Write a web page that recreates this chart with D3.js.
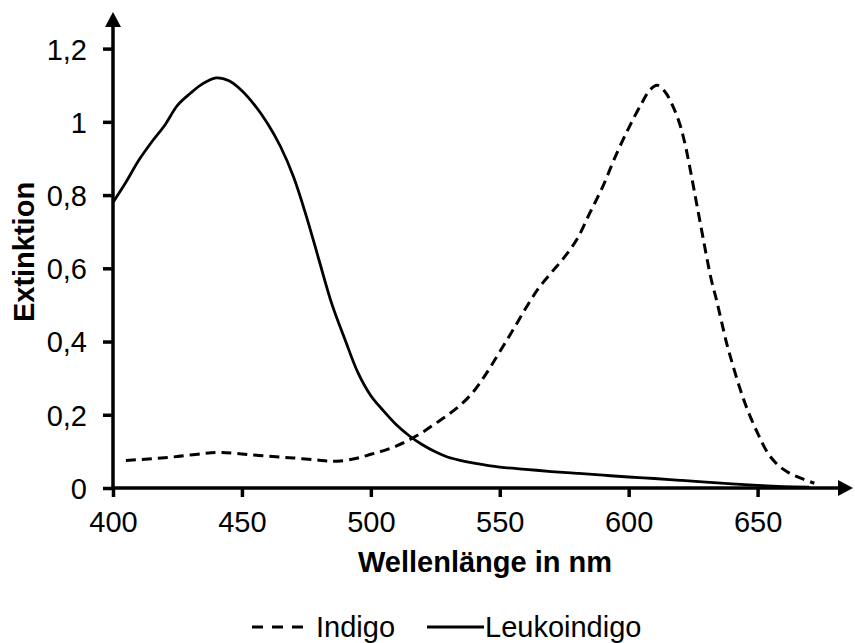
<!DOCTYPE html>
<html>
<head>
<meta charset="utf-8">
<script src="https://cdn.jsdelivr.net/npm/d3@7"></script>
<style>
  body { margin: 0; background: #fff; }
  text { font-family: "Liberation Sans", Arial, sans-serif; fill: #000; }
</style>
</head>
<body>
<div class="chart"></div>
<script>
// Absorptionsspektren
const xTicks = [400, 450, 500, 550, 600, 650];
const yTicks = [0, 0.2, 0.4, 0.6, 0.8, 1, 1.2];

const leukoNm  = [400, 405, 410, 415, 420, 425, 430, 435, 440, 445, 450, 455, 460, 465, 470, 475, 480, 485, 490, 495, 500, 505, 510, 515, 520, 525, 530, 535, 540, 550, 560, 570, 580, 590, 600, 610, 620, 630, 640, 650, 660, 670];
const leukoExt = [0.78, 0.835, 0.895, 0.945, 0.99, 1.045, 1.078, 1.105, 1.12, 1.112, 1.085, 1.045, 0.995, 0.932, 0.85, 0.742, 0.62, 0.5, 0.405, 0.315, 0.252, 0.21, 0.172, 0.142, 0.118, 0.099, 0.084, 0.075, 0.068, 0.057, 0.051, 0.045, 0.04, 0.035, 0.03, 0.026, 0.021, 0.016, 0.011, 0.007, 0.004, 0.002];

const indigoNm  = [405, 415, 425, 435, 442, 450, 460, 470, 480, 487, 495, 500, 505, 510, 515, 520, 525, 530, 535, 540, 545, 550, 555, 560, 565, 570, 575, 580, 585, 590, 595, 600, 605, 608, 611, 614, 617, 620, 622, 624, 626, 628, 630, 632, 634, 636, 638, 640, 643, 646, 650, 654, 658, 662, 667, 672];
const indigoExt = [0.075, 0.08, 0.086, 0.094, 0.097, 0.093, 0.087, 0.082, 0.076, 0.073, 0.082, 0.092, 0.102, 0.115, 0.132, 0.152, 0.176, 0.2, 0.228, 0.265, 0.315, 0.372, 0.43, 0.49, 0.545, 0.588, 0.63, 0.68, 0.752, 0.824, 0.908, 0.983, 1.05, 1.085, 1.1, 1.083, 1.045, 0.99, 0.935, 0.865, 0.79, 0.715, 0.64, 0.57, 0.515, 0.455, 0.395, 0.345, 0.275, 0.215, 0.15, 0.095, 0.062, 0.042, 0.026, 0.013];

const width = 855;
const height = 643;

const svg = d3.select(".chart")
  .append("svg")
  .attr("width", width)
  .attr("height", height);

const x = d3.scaleLinear().domain([400, 687]).range([113, 853]);
const y = d3.scaleLinear().domain([0, 1.3]).range([488, 12]);

const de = d3.formatLocale({ decimal: ",", thousands: ".", grouping: [3], currency: ["", "€"] });
const fmt = de.format("~g");

// Ticks
const xAxis = svg.append("g")
  .attr("transform", `translate(0,${y(0)})`)
  .call(d3.axisBottom(x).tickValues(xTicks).tickSize(9).tickPadding(14).tickFormat(d => d));
const yAxis = svg.append("g")
  .attr("transform", `translate(${x(400)},0)`)
  .call(d3.axisLeft(y).tickValues(yTicks).tickSize(10).tickPadding(16).tickFormat(fmt));

[xAxis, yAxis].forEach(g => {
  g.select(".domain").remove();
  g.selectAll(".tick line").attr("stroke", "#000").attr("stroke-width", 3.5);
  g.selectAll(".tick text")
    .style("font-family", "'Liberation Sans', Arial, sans-serif")
    .style("font-size", "29px")
    .attr("fill", "#000");
});
yAxis.selectAll(".tick text").attr("dy", "0.36em");

// Achsenlinien mit Pfeilen
const x0 = x(400), y0 = y(0);
const xEnd = x(687), yEnd = y(1.3);
svg.append("line")
  .attr("x1", x0 - 1.5).attr("y1", y0)
  .attr("x2", xEnd - 12).attr("y2", y0)
  .attr("stroke", "#000").attr("stroke-width", 3.5);
svg.append("path")
  .attr("d", `M${xEnd},${y0} L${xEnd - 15},${y0 - 8} L${xEnd - 15},${y0 + 8} Z`)
  .attr("fill", "#000");
svg.append("line")
  .attr("x1", x0).attr("y1", y0 + 1.5)
  .attr("x2", x0).attr("y2", yEnd + 12)
  .attr("stroke", "#000").attr("stroke-width", 3.5);
svg.append("path")
  .attr("d", `M${x0},${yEnd} L${x0 - 8},${yEnd + 15} L${x0 + 8},${yEnd + 15} Z`)
  .attr("fill", "#000");

// Kurven
const line = d3.line()
  .x(d => x(d[0]))
  .y(d => y(d[1]))
  .curve(d3.curveCatmullRom.alpha(0.5));

svg.append("path")
  .datum(d3.zip(indigoNm, indigoExt))
  .attr("d", line)
  .attr("fill", "none")
  .attr("stroke", "#000")
  .attr("stroke-width", 3)
  .attr("stroke-dasharray", "10,6");

svg.append("path")
  .datum(d3.zip(leukoNm, leukoExt))
  .attr("d", line)
  .attr("fill", "none")
  .attr("stroke", "#000")
  .attr("stroke-width", 2.8);

// Achsentitel
svg.append("text")
  .attr("x", 485).attr("y", 572)
  .attr("text-anchor", "middle")
  .style("font-size", "29px").style("font-weight", "bold")
  .text("Wellenlänge in nm");

svg.append("text")
  .attr("transform", "translate(34,252) rotate(-90)")
  .attr("text-anchor", "middle")
  .style("font-size", "29px").style("font-weight", "bold")
  .text("Extinktion");

// Legende
const legend = svg.append("g");
legend.append("line")
  .attr("x1", 252).attr("x2", 310).attr("y1", 627).attr("y2", 627)
  .attr("stroke", "#000").attr("stroke-width", 3)
  .attr("stroke-dasharray", "11,9");
legend.append("text").attr("x", 316).attr("y", 637)
  .style("font-size", "29px").text("Indigo");
legend.append("line")
  .attr("x1", 427).attr("x2", 484).attr("y1", 627).attr("y2", 627)
  .attr("stroke", "#000").attr("stroke-width", 2.8);
legend.append("text").attr("x", 485).attr("y", 637)
  .style("font-size", "29px").text("Leukoindigo");
</script>
</body>
</html>
